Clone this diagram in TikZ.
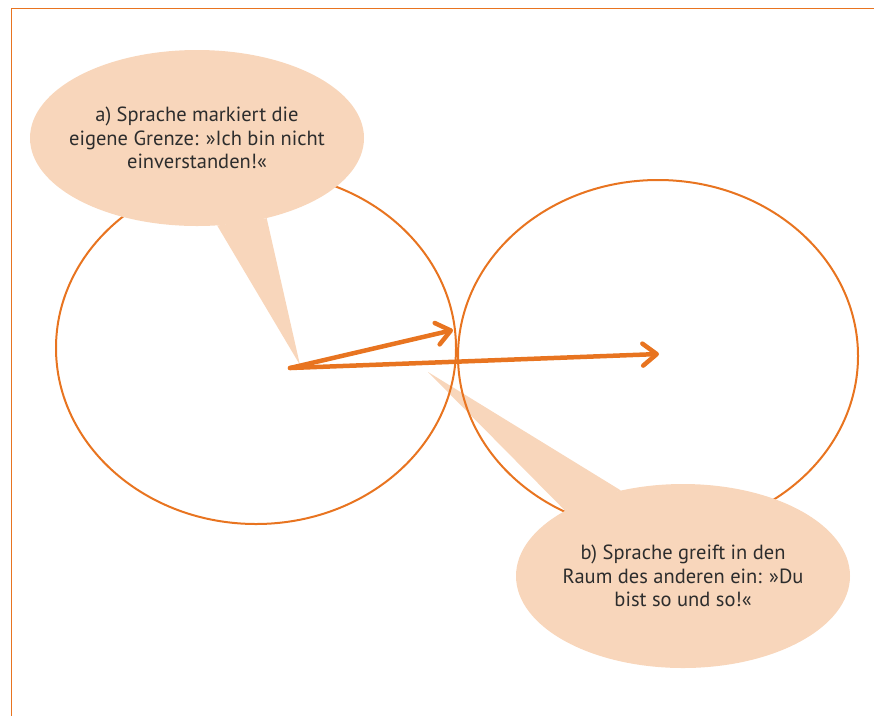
\documentclass[tikz,border=0pt]{standalone}
\usepackage{fontspec}
\setmainfont{PT Sans}
\usetikzlibrary{shapes.geometric,arrows.meta,backgrounds}
\definecolor{rand}{RGB}{232,116,32}
\definecolor{blase}{RGB}{248,214,187}
\definecolor{schrift}{RGB}{45,45,45}
\begin{document}
\begin{tikzpicture}[x=1pt,y=-1pt,
    kreis/.style={ellipse,draw=rand,line width=2pt,minimum width=400pt,minimum height=352pt,inner sep=0pt},
    sprech/.style={ellipse,fill=blase,minimum width=334pt,minimum height=176pt,inner ysep=0pt,inner xsep=-20pt,align=center,text=schrift,font=\fontsize{20.5}{23.5}\selectfont},
    zipfel/.style={fill=blase},
    pfeil/.style={draw=rand,line width=4.5pt,line cap=round,-{Straight Barb[length=14pt,width=22pt,round]}}]
    \useasboundingbox (0,0) rectangle (874,716);
    \draw[rand,line width=1pt] (874,8)--(11,8)--(11,716);
    % Sprechblasen
    \node[sprech] (blaseA) at (197,138) {a) Sprache markiert die\\eigene Grenze: »Ich bin nicht\\einverstanden!«};
    \node[sprech,minimum height=184pt] (blaseB) at (683,576) {b) Sprache greift in den\\Raum des anderen ein: »Du\\bist so und so!«};
    \coordinate (spitzeA) at (300,365);
    \coordinate (spitzeB) at (428,372);
    \begin{scope}[on background layer]
      \fill[zipfel] (blaseA.-77) -- (spitzeA) -- (blaseA.-49) -- cycle;
      \fill[zipfel] (blaseB.151) -- (spitzeB) -- (blaseB.126) -- cycle;
      \node[kreis] (kreisL) at (256,348) {};
      \node[kreis] (kreisR) at (658,356) {};
    \end{scope}
    % Pfeile
    \coordinate (start) at (290,368);
    \coordinate (grenze) at (453,330);
    \coordinate (raum) at (659,354);
    \draw[pfeil] (start) -- (grenze);
    \draw[pfeil] (start) -- (raum);
\end{tikzpicture}
\end{document}
